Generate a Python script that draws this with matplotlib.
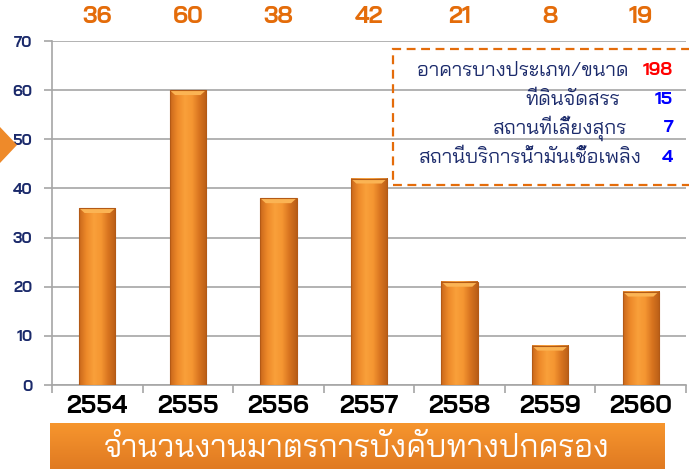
import numpy as np
import matplotlib
matplotlib.use("Agg")
import matplotlib.pyplot as plt
from matplotlib.patches import Rectangle, Polygon
from matplotlib.colors import LinearSegmentedColormap
from matplotlib.transforms import blended_transform_factory

THAI = ["Bai Jamjuree", "DejaVu Sans"]
plt.rcParams["font.family"] = THAI

years = ["2554", "2555", "2556", "2557", "2558", "2559", "2560"]
counts = [36, 60, 38, 42, 21, 8, 19]

legend_labels = ["อาคารบางประเภท/ขนาด", "ที่ดินจัดสรร", "สถานที่เลี้ยงสุกร", "สถานีบริการน้ำมันเชื้อเพลิง"]
legend_values = [198, 15, 7, 4]
legend_colors = ["#FF0000", "#0000FF", "#0000FF", "#0000FF"]

title = "จำนวนงานมาตรการบังคับทางปกครอง"

ORANGE = "#E46C0A"
NAVY = "#1B2A6B"
W, H = 689, 469

fig = plt.figure(figsize=(W / 100, H / 100), dpi=100)
ax = fig.add_axes([52 / W, 1 - 385 / H, (686 - 52) / W, (385 - 41) / H])

x = np.arange(len(years))
bar_w = 0.4
ax.set_xlim(-0.5, len(years) - 0.5)
ax.set_ylim(0, 70)

# bars: horizontal gradient to fake the bevel look
bar_cmap = LinearSegmentedColormap.from_list(
    "bar", ["#C9681B", "#EE8A2A", "#F9A03A", "#F59632", "#D8741F", "#B95E17"])
grad = np.linspace(0, 1, 64).reshape(1, -1)
for xi, v in zip(x, counts):
    ax.imshow(grad, cmap=bar_cmap, aspect="auto", zorder=3,
              extent=(xi - bar_w / 2, xi + bar_w / 2, 0, v))
    # lighter top cap
    ax.add_patch(Polygon([(xi - bar_w / 2, v), (xi + bar_w / 2, v),
                          (xi + bar_w / 2 - 0.06, v - 1.0),
                          (xi - bar_w / 2 + 0.06, v - 1.0)],
                         closed=True, facecolor="#FBB454", edgecolor="none",
                         zorder=4))
ax.bar(x, counts, width=bar_w, facecolor="none", edgecolor="#B35A16",
       lw=0.8, zorder=5)

ax.set_yticks(range(0, 71, 10))
ax.yaxis.grid(True, color="#A6A6A6", lw=1.2, zorder=0)
ax.set_axisbelow(True)
for s in ("top", "right"):
    ax.spines[s].set_visible(False)
for s in ("left", "bottom"):
    ax.spines[s].set_color("#A6A6A6")
    ax.spines[s].set_linewidth(1.2)
ax.tick_params(axis="y", length=6, color="#A6A6A6", width=1.2,
               labelsize=11, labelcolor=NAVY, pad=8)
for lab in ax.get_yticklabels():
    lab.set_fontweight("bold")

ax.set_xticks(x)
ax.set_xticklabels(years, fontsize=18, fontweight="bold", color="black")
ax.set_xticks(np.arange(-0.5, len(years)), minor=True)
ax.tick_params(axis="x", which="major", length=0, pad=7)
ax.tick_params(axis="x", which="minor", length=6, color="#A6A6A6", width=1.2)

# value labels above the plot
tr = blended_transform_factory(ax.transData, fig.transFigure)
for xi, v in zip(x, counts):
    ax.text(xi, 1 - 17 / H, str(v), transform=tr, ha="center", va="center",
            fontsize=17, fontweight="bold", color=ORANGE, clip_on=False)

# dashed legend-like box
fig.patches.append(Rectangle((393 / W, 1 - 185 / H), 320 / W, 136 / H,
                             transform=fig.transFigure, fill=False,
                             edgecolor=ORANGE, lw=1.6, ls=(0, (4, 2.5))))
row_y = [71, 100, 128, 158]
label_x = [628, 620, 627, 642]
for lab, val, col, ry, lx in zip(legend_labels, legend_values, legend_colors,
                                 row_y, label_x):
    fig.text(lx / W, 1 - ry / H, lab, ha="right", va="center",
             fontsize=14.5, color=NAVY)
    fig.text(673 / W, 1 - ry / H, str(val), ha="right", va="center",
             fontsize=13, fontweight="bold", color=col)

# orange shape peeking in from the left
fig.patches.append(Polygon([(0, 1 - 127 / H), (17 / W, 1 - 145 / H),
                            (0, 1 - 163 / H)], closed=True,
                           transform=fig.transFigure,
                           facecolor="#EE8A2A", edgecolor="none"))

# bottom banner with vertical gradient
bax = fig.add_axes([50 / W, 0, (665 - 50) / W, (H - 423) / H])
bcmap = LinearSegmentedColormap.from_list("ban", ["#E07A22", "#F7962E"])
bax.imshow(np.linspace(0, 1, 64).reshape(-1, 1), cmap=bcmap, aspect="auto",
           origin="lower", extent=(0, 1, 0, 1))
bax.set_xlim(0, 1)
bax.set_ylim(0, 1)
bax.axis("off")
fig.text(357 / W, 1 - 449 / H, title, ha="center", va="center",
         fontsize=22.8, color="white")

fig.savefig("out.png", dpi=100)
